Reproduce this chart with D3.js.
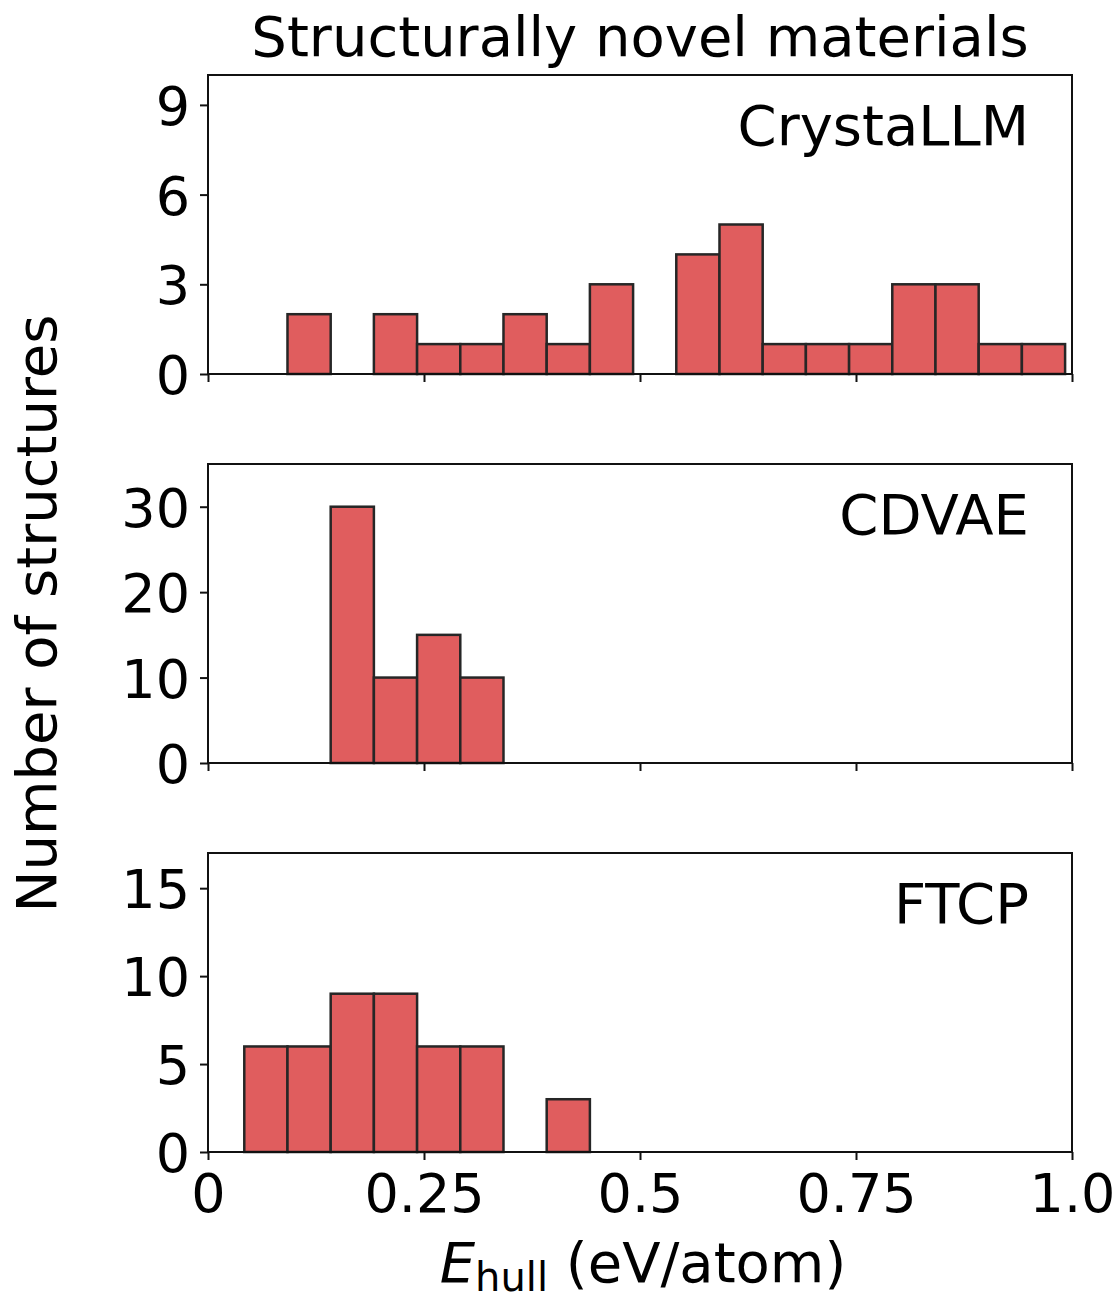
<!DOCTYPE html>
<html>
<head>
<meta charset="utf-8">
<script src="https://cdn.jsdelivr.net/npm/d3@7"></script>
<style>
  body { margin: 0; background: #fff; }
  svg { display: block; font-family: "DejaVu Sans", sans-serif; }
</style>
</head>
<body>
<div id="chart"></div>
<script>
// histogram bin lower edges (eV/atom), width 0.05
const binEdges = [0.042, 0.092, 0.142, 0.192, 0.242, 0.292, 0.342, 0.392, 0.442, 0.492,
                  0.542, 0.592, 0.642, 0.692, 0.742, 0.792, 0.842, 0.892, 0.942];
const binWidth = 0.05;

const models = ["CrystaLLM", "CDVAE", "FTCP"];
const crystallmCounts = [0, 2, 0, 2, 1, 1, 2, 1, 3, 0, 4, 5, 1, 1, 1, 3, 3, 1, 1];
const cdvaeCounts = [0, 0, 30, 10, 15, 10];
const ftcpCounts = [6, 6, 9, 9, 6, 6, 0, 3];

const yMax = [10, 35, 17];
const yTicks = [[0, 3, 6, 9], [0, 10, 20, 30], [0, 5, 10, 15]];
const xTicks = [0, 0.25, 0.5, 0.75, 1.0];
const xTickLabels = ["0", "0.25", "0.5", "0.75", "1.0"];

const counts = [crystallmCounts, cdvaeCounts, ftcpCounts];

const width = 1115, height = 1295;
const left = 208, right = 1072;
const panelTops = [75, 464, 853];
const panelH = 299;
const fontSize = 54;

const svg = d3.select("#chart").append("svg")
    .attr("width", width)
    .attr("height", height);

const x = d3.scaleLinear().domain([0, 1]).range([left, right]);

models.forEach((name, i) => {
  const top = panelTops[i];
  const y = d3.scaleLinear().domain([0, yMax[i]]).range([top + panelH, top]);
  const g = svg.append("g");

  const bins = counts[i].map((c, k) => ({x0: binEdges[k], x1: binEdges[k] + binWidth, c}));

  g.selectAll("rect.bar")
    .data(bins)
    .join("rect")
      .attr("class", "bar")
      .attr("x", d => x(d.x0))
      .attr("width", d => x(d.x1) - x(d.x0))
      .attr("y", d => y(d.c))
      .attr("height", d => y(0) - y(d.c))
      .attr("fill", "#e05d5e")
      .attr("stroke", "#262626")
      .attr("stroke-width", 2.5);

  // frame
  g.append("rect")
      .attr("x", left).attr("y", top)
      .attr("width", right - left).attr("height", panelH)
      .attr("fill", "none")
      .attr("stroke", "#111")
      .attr("stroke-width", 2);

  // y axis
  const yAxis = g.append("g")
      .attr("transform", `translate(${left},0)`)
      .call(d3.axisLeft(y).tickValues(yTicks[i]).tickSize(8).tickPadding(10).tickFormat(d3.format("d")));
  yAxis.select(".domain").remove();
  yAxis.selectAll("line").attr("stroke", "#111").attr("stroke-width", 2);
  yAxis.selectAll("text").attr("font-size", fontSize).attr("fill", "#000")
      .attr("font-family", "DejaVu Sans").attr("dy", "0.36em");

  // x axis
  const xAxis = g.append("g")
      .attr("transform", `translate(0,${top + panelH})`)
      .call(d3.axisBottom(x).tickValues(xTicks).tickSize(8).tickPadding(10)
        .tickFormat((d, k) => i === 2 ? xTickLabels[k] : ""));
  xAxis.select(".domain").remove();
  xAxis.selectAll("line").attr("stroke", "#111").attr("stroke-width", 2);
  xAxis.selectAll("text").attr("font-size", fontSize).attr("fill", "#000")
      .attr("font-family", "DejaVu Sans").attr("dy", "0.78em");

  // model label
  g.append("text")
      .attr("x", right - 43)
      .attr("y", top + 70)
      .attr("text-anchor", "end")
      .attr("font-size", 56)
      .text(name);
});

// title
svg.append("text")
    .attr("x", (left + right) / 2)
    .attr("y", 56)
    .attr("text-anchor", "middle")
    .attr("font-size", 56)
    .text("Structurally novel materials");

// y label
svg.append("text")
    .attr("transform", `translate(56,${(panelTops[0] + panelTops[2] + panelH) / 2}) rotate(-90)`)
    .attr("text-anchor", "middle")
    .attr("font-size", 56)
    .text("Number of structures");

// x label
const xl = svg.append("text")
    .attr("x", (left + right) / 2 + 3)
    .attr("y", 1282)
    .attr("text-anchor", "middle")
    .attr("font-size", 56);
xl.append("tspan").attr("font-style", "italic").text("E");
xl.append("tspan").attr("font-size", 40).attr("dy", 9).text("hull");
xl.append("tspan").attr("dy", -9).text(" (eV/atom)");
</script>
</body>
</html>
